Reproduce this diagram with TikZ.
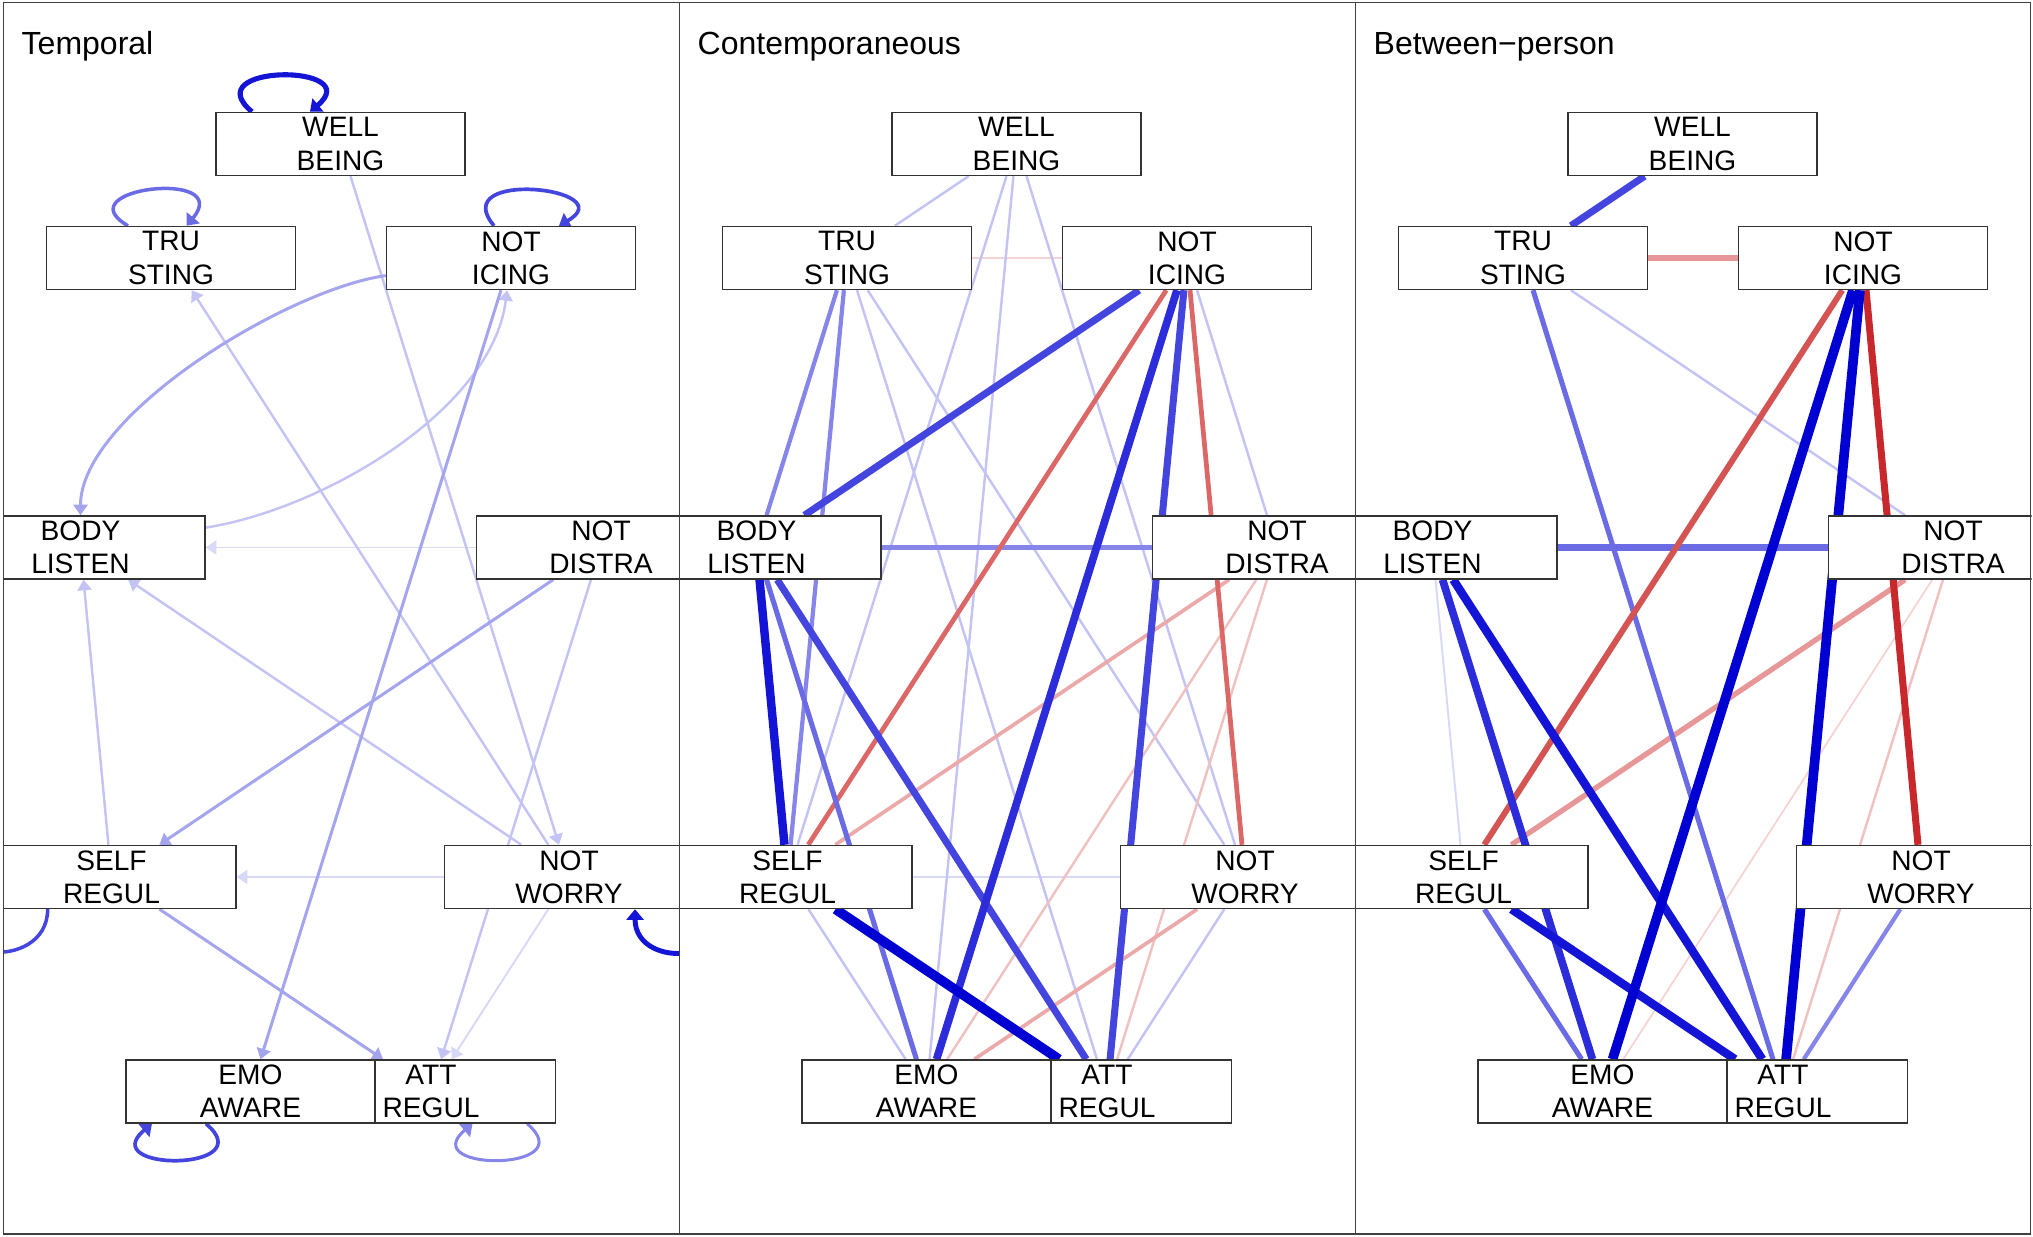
\documentclass[tikz,border=0pt]{standalone}
\usepackage{fontspec}
\setmainfont{Liberation Sans}
\usetikzlibrary{arrows.meta}

\definecolor{pe1c}{HTML}{D8D8F7}
\definecolor{pe2c}{HTML}{C4C4F4}
\definecolor{pe3c}{HTML}{A4A4EF}
\definecolor{pe4c}{HTML}{8585EA}
\definecolor{pe5c}{HTML}{6B6BE5}
\definecolor{pe6c}{HTML}{4444DE}
\definecolor{pe7c}{HTML}{2C2CDA}
\definecolor{pe8c}{HTML}{1414D6}
\definecolor{pe9c}{HTML}{0000D2}
\definecolor{ne1c}{HTML}{F5D3D3}
\definecolor{ne2c}{HTML}{F0C1C1}
\definecolor{ne3c}{HTML}{EBA9A9}
\definecolor{ne4c}{HTML}{E79797}
\definecolor{ne5c}{HTML}{DC6767}
\definecolor{ne6c}{HTML}{D45353}
\definecolor{ne7c}{HTML}{C8282C}

\pgfdeclarelayer{edges}
\pgfsetlayers{edges,main}

\tikzset{
  varbox/.style={draw=black!80, line width=0.4pt, fill=white, minimum width=2.49cm,
    minimum height=0.63cm, inner sep=0pt, align=center, font=\fontsize{8}{9.4}\selectfont},
  paneltitle/.style={anchor=base west, inner sep=0pt, font=\fontsize{9.1}{10.8}\selectfont},
  tip/.style={-{Triangle[length=3pt, width=4pt]}},
  looptip/.style={-{Triangle[length=3pt, width=4.8pt]}},
  pe1/.style={draw=pe1c, line width=0.55pt},
  pe2/.style={draw=pe2c, line width=0.7pt},
  pe3/.style={draw=pe3c, line width=0.85pt},
  pe4/.style={draw=pe4c, line width=1.2pt},
  pe5/.style={draw=pe5c, line width=1.45pt},
  pe6/.style={draw=pe6c, line width=2pt},
  pe7/.style={draw=pe7c, line width=2.2pt},
  pe8/.style={draw=pe8c, line width=2.4pt},
  pe9/.style={draw=pe9c, line width=2.75pt},
  ne1/.style={draw=ne1c, line width=0.5pt},
  ne2/.style={draw=ne2c, line width=0.7pt},
  ne3/.style={draw=ne3c, line width=1.05pt},
  ne4/.style={draw=ne4c, line width=1.5pt},
  ne5/.style={draw=ne5c, line width=1.35pt},
  ne6/.style={draw=ne6c, line width=1.7pt},
  ne7/.style={draw=ne7c, line width=2pt}
}

\begin{document}
\begin{tikzpicture}[x=0.01cm, y=0.01cm]
\useasboundingbox (0,0) rectangle (2033,1237);

% the same nine variables in each panel
\foreach \p/\L/\ttl in {1/3.5/Temporal, 2/679.5/Contemporaneous, 3/1355.5/Between−person} {
  \begin{scope}
    \clip (\L,3) rectangle ++(676,1231.5);
    \node[paneltitle] (title\p) at (\L+17.5,1182) {\ttl};
    \node[varbox] (wb\p) at (\L+337,1093) {WELL\\BEING};
    \node[varbox] (ts\p) at (\L+167.5,979) {TRU\\STING};
    \node[varbox] (ni\p) at (\L+507.5,979) {NOT\\ICING};
    \node[varbox] (bl\p) at (\L+77,689.5) {BODY\\LISTEN};
    \node[varbox] (nd\p) at (\L+597.5,689.5) {NOT\\DISTRA};
    \node[varbox] (sr\p) at (\L+108,360) {SELF\\REGUL};
    \node[varbox] (nw\p) at (\L+565.5,360) {NOT\\WORRY};
    \node[varbox] (ar\p) at (\L+427.5,145.5) {ATT\\REGUL};
    \node[varbox] (ea\p) at (\L+247,145.5) {EMO\\AWARE};
  \end{scope}
}

\begin{pgfonlayer}{edges}
% temporal
\begin{scope}
\clip (3.5,3) rectangle (679.5,1234.5);
\draw[pe1, tip] (nd1) -- (bl1);
\draw[pe1, tip] (nw1) -- (ar1);
\draw[pe1, tip] (nw1) -- (sr1);
\draw[pe2, tip] (wb1) -- (nw1);
\draw[pe2, tip] (nw1) -- (ts1);
\draw[pe2, tip] (nd1) -- (ar1);
\draw[pe2, tip] (sr1) -- (bl1);
\draw[pe2, tip] (nw1) -- (bl1);
\draw[pe2, tip] (bl1.9) .. controls +(9:120) and +(263:120) .. (ni1.263);
\draw[pe3, tip] (ni1.188) .. controls +(188:100) and +(90:100) .. (bl1.north);
\draw[pe3, tip] (ni1) -- (ea1);
\draw[pe3, tip] (nd1) -- (sr1);
\draw[pe3, tip] (sr1) -- (ar1);
% self loops
\draw[pe8, line width=1.45pt, looptip] ([xshift=-0.885cm]wb1.north) .. controls +(140:75) and +(40:75) .. ([xshift=-0.305cm]wb1.north);
\draw[pe5, line width=1pt, looptip] ([xshift=-0.43cm]ts1.north) .. controls +(150:75) and +(50:75) .. ([xshift=0.155cm]ts1.north);
\draw[pe6, line width=1.05pt, looptip] ([xshift=-0.17cm]ni1.north) .. controls +(130:75) and +(30:75) .. ([xshift=0.48cm]ni1.north);
\draw[pe6, line width=1pt, looptip] ([xshift=-0.638cm]sr1.south) .. controls +(0,-66) and +(-67,-67) .. ([yshift=-0.16cm]sr1.west);
\draw[pe8, line width=1.4pt, looptip] ([yshift=-0.16cm]nw1.east) .. controls +(67,-67) and +(0,-66) .. ([xshift=0.66cm]nw1.south);
\draw[pe6, line width=1.05pt, looptip] ([xshift=-0.445cm]ea1.south) .. controls +(-40:75) and +(-140:75) .. ([xshift=-0.985cm]ea1.south);
\draw[pe4, line width=0.85pt, looptip] ([xshift=0.96cm]ar1.south) .. controls +(-40:75) and +(-140:75) .. ([xshift=0.415cm]ar1.south);
\end{scope}

% contemporaneous
\draw[pe1] (sr2) -- (nw2);
\draw[ne1] (ts2) -- (ni2);
\draw[pe2] (wb2) -- (ts2);
\draw[pe2] (wb2) -- (sr2);
\draw[pe2] (wb2) -- (ea2);
\draw[pe2] (wb2) -- (nw2);
\draw[pe2] (ts2) -- (ar2);
\draw[pe2] (ts2) -- (nw2);
\draw[pe2] (ni2) -- (nd2);
\draw[pe2] (nw2) -- (ar2);
\draw[pe2] (sr2) -- (ea2);
\draw[ne2] (nd2) -- (ea2);
\draw[ne2] (nd2) -- (ar2);
\draw[ne3] (nd2) -- (sr2);
\draw[ne3] (nw2) -- (ea2);
\draw[pe4] (ts2) -- (bl2);
\draw[pe4] (ts2) -- (sr2);
\draw[pe4] (bl2) -- (nd2);
\draw[ne5] (ni2) -- (sr2);
\draw[ne5] (ni2) -- (nw2);
\draw[pe5] (bl2) -- (ea2);
\draw[pe6] (bl2) -- (ar2);
\draw[pe6] (ni2) -- (bl2);
\draw[pe6] (ni2) -- (ar2);
\draw[pe7] (ni2) -- (ea2);
\draw[pe8] (bl2) -- (sr2);
\draw[pe9] (sr2) -- (ar2);

% between-person
\draw[pe1] (bl3) -- (sr3);
\draw[ne1] (nd3) -- (ea3);
\draw[ne2] (nd3) -- (ar3);
\draw[pe2] (ts3) -- (nd3);
\draw[ne4] (ts3) -- (ni3);
\draw[ne4] (nd3) -- (sr3);
\draw[pe4] (nw3) -- (ar3);
\draw[pe5] (ts3) -- (ar3);
\draw[pe5] (sr3) -- (ea3);
\draw[pe5, line width=1.9pt] (bl3) -- (nd3);
\draw[ne6] (ni3) -- (sr3);
\draw[pe6] (wb3) -- (ts3);
\draw[ne7] (ni3) -- (nw3);
\draw[pe7] (bl3) -- (ea3);
\draw[pe8] (bl3) -- (ar3);
\draw[pe8] (sr3) -- (ar3);
\draw[pe9] (ni3) -- (ar3);
\draw[pe9] (ni3) -- (ea3);
\end{pgfonlayer}

% panel frames
\draw[black!75, line width=0.5pt] (3.5,3) rectangle (2030.5,1234.5);
\draw[black!75, line width=0.5pt] (679.5,3) -- (679.5,1234.5);
\draw[black!75, line width=0.5pt] (1355.5,3) -- (1355.5,1234.5);
\end{tikzpicture}
\end{document}
